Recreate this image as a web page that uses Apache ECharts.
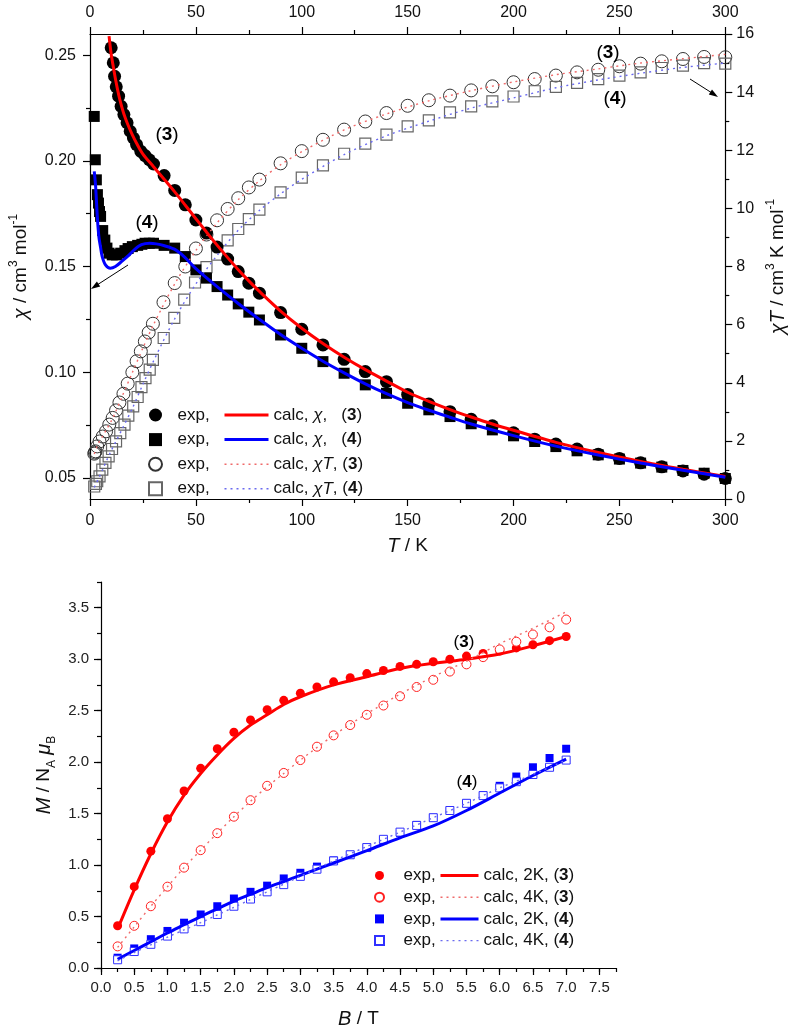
<!DOCTYPE html>
<html>
<head>
<meta charset="utf-8">
<script src="https://cdn.jsdelivr.net/npm/echarts@6/dist/echarts.min.js"></script>
<style>
html,body{margin:0;padding:0;background:#fff;}
#c{width:796px;height:1030px;}
</style>
</head>
<body>
<div id="c"></div>
<script>
// ---------- Top chart: chi and chiT vs T ----------
const tTicks = [0, 50, 100, 150, 200, 250, 300];
const chiMajorTicks = [0.05, 0.10, 0.15, 0.20, 0.25];
const chiMinorTicks = [0.075, 0.125, 0.175, 0.225];

const chi3Exp = [[10,0.2535],[11,0.2464],[11.6,0.240],[12.4,0.235],[13.5,0.2306],[14.7,0.2258],[16,0.2219],[17.5,0.218],[19,0.214],[20.5,0.2108],[22,0.2077],[24,0.2045],[26,0.2025],[28,0.2005],[30,0.1985],[35,0.193],[40,0.186],[45,0.1792],[50,0.172],[55,0.1658],[60,0.1592],[65,0.1535],[70,0.1476],[75,0.1421],[80,0.1374],[90,0.1282],[100,0.1203],[110,0.1129],[120,0.1061],[130,0.1003],[140,0.0955],[150,0.0895],[160,0.0849],[170,0.0813],[180,0.0777],[190,0.0746],[200,0.0713],[210,0.0683],[220,0.066],[230,0.0636],[240,0.0612],[250,0.0592],[260,0.0571],[270,0.0552],[280,0.0533],[290,0.0517],[300,0.0497]];
const chi4Exp = [[2,0.221],[2.5,0.2005],[3,0.191],[3.5,0.184],[4,0.180],[4.5,0.176],[5,0.1737],[6,0.167],[7,0.1625],[8,0.1587],[9,0.1563],[10.5,0.1555],[12.5,0.1555],[14.5,0.1563],[16.5,0.1575],[18,0.1585],[20,0.1594],[22.5,0.160],[24.5,0.1605],[26,0.161],[28,0.161],[30,0.161],[35,0.160],[40,0.1587],[45,0.1547],[50,0.1484],[55,0.1445],[60,0.1405],[65,0.1365],[70,0.1323],[75,0.1284],[80,0.1247],[90,0.1176],[100,0.1113],[110,0.105],[120,0.0995],[130,0.094],[140,0.090],[150,0.0853],[160,0.0822],[170,0.079],[180,0.0756],[190,0.0727],[200,0.0699],[210,0.0672],[220,0.0648],[230,0.0628],[240,0.0609],[250,0.0589],[260,0.057],[270,0.0551],[280,0.0535],[290,0.0522],[300,0.0497]];
const chi3Calc = [[9,0.259],[10,0.2505],[11,0.2445],[12,0.2388],[13,0.2338],[14,0.2293],[15,0.2255],[16,0.2222],[18,0.2168],[20,0.2123],[22,0.2083],[25,0.2032],[30,0.1972],[35,0.1913],[40,0.1853],[45,0.179],[50,0.1726],[55,0.1663],[60,0.1601],[65,0.1542],[70,0.1485],[75,0.1432],[80,0.1382],[90,0.1289],[100,0.1208],[110,0.1136],[120,0.1071],[130,0.1012],[140,0.0958],[150,0.0905],[160,0.0862],[170,0.0823],[180,0.0788],[190,0.0755],[200,0.0725],[220,0.0668],[240,0.062],[260,0.0578],[280,0.0541],[300,0.0506]];
const chi4Calc = [[2,0.195],[2.65,0.188],[3.44,0.1737],[4.18,0.1642],[5,0.159],[5.76,0.1547],[7.3,0.1508],[9.6,0.1492],[12,0.150],[15,0.1524],[18,0.155],[21,0.158],[24.3,0.1603],[28.2,0.161],[31.3,0.1607],[35.2,0.1598],[39.8,0.1582],[44.4,0.1547],[50,0.149],[60,0.1405],[70,0.1325],[80,0.125],[90,0.1178],[100,0.1113],[110,0.1052],[120,0.0997],[130,0.0945],[140,0.0898],[150,0.0856],[160,0.082],[170,0.0787],[180,0.0755],[200,0.07],[220,0.065],[240,0.0608],[260,0.057],[280,0.0536],[300,0.0503]];
const chiT3Exp = [[2,1.56],[2.3,1.6],[2.6,1.64],[3.4,1.81],[4.5,1.98],[6,2.15],[7.6,2.33],[9.1,2.56],[10.7,2.79],[12.3,3.05],[13.9,3.32],[15.8,3.62],[17.8,3.97],[20,4.36],[22,4.74],[24,5.08],[25.9,5.42],[27.7,5.73],[29.7,6.03],[34.7,6.77],[40,7.43],[45,8.0],[50,8.62],[55,9.1],[60,9.59],[65,9.98],[70,10.35],[75,10.72],[80,10.99],[90,11.55],[100,11.97],[110,12.36],[120,12.71],[130,12.99],[140,13.28],[150,13.53],[160,13.72],[170,13.88],[180,14.06],[190,14.2],[200,14.34],[210,14.45],[220,14.57],[230,14.68],[240,14.77],[250,14.89],[260,14.98],[270,15.06],[280,15.14],[290,15.21],[300,15.2]];
const chiT4Exp = [[2,0.43],[2.8,0.52],[3.4,0.61],[4.5,0.78],[5.8,1.01],[7.3,1.24],[8.8,1.47],[10.4,1.72],[12.3,1.98],[14.3,2.27],[16.3,2.56],[18.1,2.87],[20.4,3.19],[22.5,3.51],[24.3,3.85],[26.2,4.16],[28.2,4.45],[29.7,4.79],[34.8,5.54],[39.8,6.23],[44.5,6.86],[49.6,7.45],[55,7.98],[60,8.41],[65,8.9],[70,9.29],[75,9.63],[80,9.96],[90,10.55],[100,11.06],[110,11.48],[120,11.88],[130,12.23],[140,12.54],[150,12.82],[160,13.03],[170,13.3],[180,13.51],[190,13.68],[200,13.85],[210,14.03],[220,14.18],[230,14.32],[240,14.45],[250,14.57],[260,14.68],[270,14.83],[280,14.91],[290,15.0],[300,14.98]];
const chiT3Calc = [[2,1.55],[3,1.75],[4,1.92],[6,2.17],[8,2.42],[10,2.68],[12,2.98],[15,3.5],[20,4.35],[25,5.2],[30,6.0],[40,7.4],[50,8.55],[60,9.5],[70,10.3],[80,10.95],[90,11.5],[100,11.95],[120,12.7],[140,13.25],[160,13.7],[180,14.05],[200,14.35],[220,14.6],[240,14.8],[260,15.0],[280,15.15],[300,15.3]];
const chiT4Calc = [[2,0.4],[3,0.55],[4,0.7],[6,1.02],[8,1.35],[10,1.66],[12,1.95],[15,2.38],[20,3.12],[25,3.95],[30,4.75],[40,6.2],[50,7.4],[60,8.38],[70,9.25],[80,9.93],[90,10.5],[100,11.0],[120,11.85],[140,12.5],[160,13.0],[180,13.45],[200,13.8],[220,14.15],[240,14.42],[260,14.65],[280,14.85],[300,15.0]];

// ---------- Bottom chart: M vs B ----------
const bLabelTicks = [0,0.5,1,1.5,2,2.5,3,3.5,4,4.5,5,5.5,6,6.5,7,7.5];
const mLabelTicks = [0,0.5,1,1.5,2,2.5,3,3.5];
const fieldB = [0.25,0.5,0.75,1,1.25,1.5,1.75,2,2.25,2.5,2.75,3,3.25,3.5,3.75,4,4.25,4.5,4.75,5,5.25,5.5,5.75,6,6.25,6.5,6.75,7];
const m3Exp2K = [0.41,0.79,1.135,1.45,1.72,1.94,2.13,2.29,2.41,2.51,2.60,2.67,2.73,2.78,2.82,2.86,2.89,2.93,2.95,2.975,3.0,3.03,3.056,3.08,3.11,3.14,3.18,3.22];
const m3Exp4K = [0.21,0.41,0.60,0.79,0.975,1.145,1.31,1.47,1.63,1.77,1.895,2.02,2.15,2.26,2.36,2.46,2.55,2.64,2.73,2.80,2.88,2.95,3.02,3.095,3.17,3.24,3.31,3.385];
const m4Exp2K = [0.10,0.19,0.28,0.36,0.44,0.52,0.60,0.675,0.74,0.80,0.87,0.925,0.985,1.045,1.10,1.17,1.24,1.31,1.39,1.46,1.53,1.60,1.68,1.77,1.86,1.95,2.04,2.13];
const m4Exp4K = [0.08,0.16,0.23,0.31,0.38,0.45,0.52,0.60,0.67,0.74,0.81,0.89,0.96,1.04,1.10,1.17,1.25,1.32,1.385,1.46,1.53,1.60,1.675,1.75,1.81,1.88,1.95,2.02];
const calcB = [0.25,0.5,0.75,1,1.25,1.5,1.75,2,2.25,2.5,2.75,3,3.5,4,4.5,5,5.5,6,6.5,7];
const m3Calc2K = [0.38,0.76,1.11,1.42,1.68,1.89,2.07,2.23,2.36,2.46,2.56,2.635,2.75,2.83,2.91,2.96,3.0,3.05,3.13,3.22];
const m3Calc4K = [0.2,0.4,0.6,0.79,0.975,1.145,1.31,1.47,1.62,1.76,1.89,2.02,2.26,2.47,2.66,2.83,2.98,3.15,3.30,3.46];
const m4Calc2K = [0.085,0.17,0.255,0.34,0.42,0.50,0.575,0.65,0.715,0.78,0.84,0.90,1.02,1.14,1.265,1.38,1.53,1.70,1.87,2.03];
const m4Calc4K = [0.07,0.15,0.225,0.30,0.37,0.44,0.515,0.59,0.665,0.74,0.815,0.89,1.04,1.18,1.32,1.46,1.60,1.75,1.88,2.02];

const pairs = (xs, ys) => xs.map((x, i) => [x, ys[i]]);

const FONT = '"Liberation Sans", Arial, Helvetica, sans-serif';
const RED = '#ff0000', BLUE = '#0000ff';
const SQUARE = 'path://M0,0H10V10H0Z';
const axisLineStyle = { color: '#000', width: 1.2 };
const tickStyle = { color: '#000', width: 1.2 };

function xTopAxis(position) {
  return {
    type: 'value', gridIndex: 0, position: position, min: 0, max: 300, interval: 50,
    axisLine: { show: true, onZero: false, lineStyle: axisLineStyle },
    axisTick: { show: true, inside: false, length: 7, lineStyle: tickStyle },
    minorTick: { show: true, splitNumber: 2, length: 4, lineStyle: tickStyle },
    axisLabel: { show: true, fontSize: 16, color: '#111', fontFamily: FONT, margin: position === 'top' ? 13 : 14 },
    splitLine: { show: false }, minorSplitLine: { show: false }
  };
}

const nameRich = {
  t: { fontSize: 19, fontFamily: FONT, color: '#111', lineHeight: 26 },
  i: { fontSize: 20, fontFamily: FONT, fontStyle: 'italic', color: '#111', lineHeight: 26 },
  s: { fontSize: 12, fontFamily: FONT, color: '#111', verticalAlign: 'top', lineHeight: 14 },
  u: { fontSize: 12, fontFamily: FONT, color: '#111', verticalAlign: 'bottom', lineHeight: 14 }
};

const legTop = {
  t: { fontSize: 17, fontFamily: FONT, color: '#111', lineHeight: 20 },
  i: { fontSize: 17, fontFamily: FONT, fontStyle: 'italic', color: '#111', lineHeight: 20 },
  b: { fontSize: 17, fontFamily: FONT, fontWeight: 'bold', color: '#111', lineHeight: 20 }
};
const legBot = {
  t: { fontSize: 17, fontFamily: FONT, color: '#111', lineHeight: 19 },
  b: { fontSize: 17, fontFamily: FONT, fontWeight: 'bold', color: '#111', lineHeight: 19 }
};

const calcTopText = {
  'calc χ (3)': '{t|calc, }{i|χ}{t|,   (}{b|3}{t|)}',
  'calc χ (4)': '{t|calc, }{i|χ}{t|,   (}{b|4}{t|)}',
  'calc χT (3)': '{t|calc, }{i|χT}{t|, (}{b|3}{t|)}',
  'calc χT (4)': '{t|calc, }{i|χT}{t|, (}{b|4}{t|)}'
};
const calcBotText = {
  'calc 2K (3)': '{t|calc, 2K, (}{b|3}{t|)}',
  'calc 4K (3)': '{t|calc, 4K, (}{b|3}{t|)}',
  'calc 2K (4)': '{t|calc, 2K, (}{b|4}{t|)}',
  'calc 4K (4)': '{t|calc, 4K, (}{b|4}{t|)}'
};

const dotRed = { color: '#f06a6a', width: 1.4, type: [2, 4] };
const dotBlue = { color: '#6a6af0', width: 1.4, type: [2, 4] };
const hideDot = { opacity: 0 };

function label(txt, x, y, size) {
  return {
    type: 'text', x: x, y: y, z: 100,
    style: {
      text: txt, align: 'center', verticalAlign: 'middle',
      rich: {
        n: { fontSize: size, fontFamily: FONT, color: '#111' },
        b: { fontSize: size, fontFamily: FONT, color: '#111', fontWeight: 'bold' }
      }
    }
  };
}

const option = {
  animation: false,
  backgroundColor: '#fff',
  textStyle: { fontFamily: FONT },
  grid: [
    { left: 88, right: 62, top: 34, bottom: 531, containLabel: false },
    { left: 101, width: 515, top: 582, bottom: 61, containLabel: false }
  ],
  xAxis: [
    Object.assign(xTopAxis('bottom'), {
      name: '{i|T}{t| / K}', nameLocation: 'middle', nameGap: 34,
      nameTextStyle: { rich: nameRich }
    }),
    xTopAxis('top'),
    {
      type: 'value', gridIndex: 1, position: 'bottom', min: 0, max: 7.75, interval: 0.25,
      axisLine: { show: true, onZero: false, lineStyle: axisLineStyle },
      axisTick: { show: true, length: 4, lineStyle: tickStyle },
      axisLabel: { show: true, customValues: bLabelTicks, formatter: v => v.toFixed(1), fontSize: 15, color: '#222', fontFamily: FONT, margin: 12 },
      splitLine: { show: false },
      name: '{i|B}{t| / T}', nameLocation: 'middle', nameGap: 38,
      nameTextStyle: { rich: nameRich }
    },
    {
      type: 'value', gridIndex: 1, position: 'bottom', min: 0, max: 7.75, interval: 0.25,
      axisLine: { show: false, onZero: false },
      axisTick: { show: true, length: 7, customValues: bLabelTicks, lineStyle: tickStyle },
      axisLabel: { show: false }, splitLine: { show: false }
    }
  ],
  yAxis: [
    {
      type: 'value', gridIndex: 0, position: 'left', min: 0.04, max: 0.26,
      axisLine: { show: true, onZero: false, lineStyle: axisLineStyle },
      axisTick: { show: true, length: 7, customValues: chiMajorTicks, lineStyle: tickStyle },
      axisLabel: { show: true, customValues: chiMajorTicks, formatter: v => v.toFixed(2), fontSize: 16, color: '#111', fontFamily: FONT, margin: 14 },
      splitLine: { show: false },
      name: '{i|χ}{t| / cm}{s|3}{t| mol}{s|-1}', nameLocation: 'middle', nameRotate: 90, nameGap: 56,
      nameTextStyle: { rich: nameRich }
    },
    {
      type: 'value', gridIndex: 0, position: 'left', min: 0.04, max: 0.26,
      axisLine: { show: false, onZero: false },
      axisTick: { show: true, length: 4, customValues: chiMinorTicks, lineStyle: tickStyle },
      axisLabel: { show: false }, splitLine: { show: false }
    },
    {
      type: 'value', gridIndex: 0, position: 'right', min: 0, max: 16, interval: 2,
      axisLine: { show: true, onZero: false, lineStyle: axisLineStyle },
      axisTick: { show: true, length: 7, lineStyle: tickStyle },
      minorTick: { show: true, splitNumber: 2, length: 4, lineStyle: tickStyle },
      axisLabel: { show: true, fontSize: 16, color: '#111', fontFamily: FONT, margin: 11 },
      splitLine: { show: false }, minorSplitLine: { show: false },
      name: '{i|χT}{t| / cm}{s|3}{t| K mol}{s|-1}', nameLocation: 'middle', nameRotate: 90, nameGap: 36,
      nameTextStyle: { rich: nameRich }
    },
    {
      type: 'value', gridIndex: 1, position: 'left', min: 0, max: 3.75, interval: 0.25,
      axisLine: { show: true, onZero: false, lineStyle: axisLineStyle },
      axisTick: { show: true, length: 4, lineStyle: tickStyle },
      axisLabel: { show: true, customValues: mLabelTicks, formatter: v => v.toFixed(1), fontSize: 15, color: '#222', fontFamily: FONT, margin: 12 },
      splitLine: { show: false },
      name: '{i|M}{t| / N}{u|A}{t| }{i|μ}{u|B}', nameLocation: 'middle', nameRotate: 90, nameGap: 42,
      nameTextStyle: { rich: nameRich }
    },
    {
      type: 'value', gridIndex: 1, position: 'left', min: 0, max: 3.75, interval: 0.25,
      axisLine: { show: false, onZero: false },
      axisTick: { show: true, length: 7, customValues: mLabelTicks, lineStyle: tickStyle },
      axisLabel: { show: false }, splitLine: { show: false }
    }
  ],
  legend: [
    {
      orient: 'vertical', left: 143, top: 400, itemWidth: 34, itemHeight: 13, itemGap: 4.6,
      selectedMode: false, formatter: () => 'exp,',
      textStyle: { fontSize: 17, fontFamily: FONT, color: '#111', lineHeight: 20 },
      data: [
        { name: 'exp χ (3)' },
        { name: 'exp χ (4)', icon: SQUARE },
        { name: 'exp χT (3)' },
        { name: 'exp χT (4)', icon: SQUARE }
      ]
    },
    {
      orient: 'vertical', left: 218, top: 400, itemWidth: 44, itemHeight: 13, itemGap: 4.6,
      selectedMode: false, formatter: n => calcTopText[n],
      textStyle: { fontSize: 17, fontFamily: FONT, color: '#111', lineHeight: 20, rich: legTop },
      data: [
        { name: 'calc χ (3)', lineStyle: { color: RED, width: 3 }, itemStyle: hideDot },
        { name: 'calc χ (4)', lineStyle: { color: BLUE, width: 3 }, itemStyle: hideDot },
        { name: 'calc χT (3)', lineStyle: dotRed, itemStyle: hideDot },
        { name: 'calc χT (4)', lineStyle: dotBlue, itemStyle: hideDot }
      ]
    },
    {
      orient: 'vertical', left: 369, top: 861, itemWidth: 38, itemHeight: 9, itemGap: 2.7,
      selectedMode: false, formatter: () => 'exp,',
      textStyle: { fontSize: 17, fontFamily: FONT, color: '#111', lineHeight: 19 },
      data: [
        { name: 'exp 2K (3)' },
        { name: 'exp 4K (3)' },
        { name: 'exp 2K (4)', icon: SQUARE },
        { name: 'exp 4K (4)', icon: SQUARE }
      ]
    },
    {
      orient: 'vertical', left: 434, top: 861, itemWidth: 38, itemHeight: 9, itemGap: 2.7,
      selectedMode: false, formatter: n => calcBotText[n],
      textStyle: { fontSize: 17, fontFamily: FONT, color: '#111', lineHeight: 19, rich: legBot },
      data: [
        { name: 'calc 2K (3)', lineStyle: { color: RED, width: 3 }, itemStyle: hideDot },
        { name: 'calc 4K (3)', lineStyle: dotRed, itemStyle: hideDot },
        { name: 'calc 2K (4)', lineStyle: { color: BLUE, width: 3 }, itemStyle: hideDot },
        { name: 'calc 4K (4)', lineStyle: dotBlue, itemStyle: hideDot }
      ]
    }
  ],
  series: [
    // top chart
    { name: 'exp χT (3)', type: 'scatter', xAxisIndex: 0, yAxisIndex: 2, data: chiT3Exp, symbol: 'circle', symbolSize: 13,
      itemStyle: { color: 'transparent', borderColor: '#333', borderWidth: 1, opacity: 1 } },
    { name: 'exp χT (4)', type: 'scatter', xAxisIndex: 0, yAxisIndex: 2, data: chiT4Exp, symbol: 'rect', symbolSize: 11,
      itemStyle: { color: 'transparent', borderColor: '#666', borderWidth: 1.2, opacity: 1 } },
    { name: 'calc χT (3)', type: 'line', xAxisIndex: 0, yAxisIndex: 2, data: chiT3Calc, symbol: 'none', smooth: 0.3, lineStyle: dotRed, itemStyle: { color: '#f06a6a' } },
    { name: 'calc χT (4)', type: 'line', xAxisIndex: 0, yAxisIndex: 2, data: chiT4Calc, symbol: 'none', smooth: 0.3, lineStyle: dotBlue, itemStyle: { color: '#6a6af0' } },
    { name: 'exp χ (3)', type: 'scatter', xAxisIndex: 0, yAxisIndex: 0, data: chi3Exp, symbol: 'circle', symbolSize: 13,
      itemStyle: { color: '#000', opacity: 1 } },
    { name: 'exp χ (4)', type: 'scatter', xAxisIndex: 0, yAxisIndex: 0, data: chi4Exp, symbol: 'rect', symbolSize: 11,
      itemStyle: { color: '#000', opacity: 1 } },
    { name: 'calc χ (3)', type: 'line', xAxisIndex: 0, yAxisIndex: 0, data: chi3Calc, symbol: 'none', smooth: 0.3,
      lineStyle: { color: RED, width: 3 }, itemStyle: { color: RED } },
    { name: 'calc χ (4)', type: 'line', xAxisIndex: 0, yAxisIndex: 0, data: chi4Calc, symbol: 'none', smooth: 0.3,
      lineStyle: { color: BLUE, width: 3 }, itemStyle: { color: BLUE } },
    // bottom chart
    { name: 'exp 2K (3)', type: 'scatter', xAxisIndex: 2, yAxisIndex: 3, data: pairs(fieldB, m3Exp2K), symbol: 'circle', symbolSize: 9,
      itemStyle: { color: RED, opacity: 1 } },
    { name: 'calc 2K (3)', type: 'line', xAxisIndex: 2, yAxisIndex: 3, data: pairs(calcB, m3Calc2K), symbol: 'none', smooth: 0.3,
      lineStyle: { color: RED, width: 3 }, itemStyle: { color: RED } },
    { name: 'exp 4K (3)', type: 'scatter', xAxisIndex: 2, yAxisIndex: 3, data: pairs(fieldB, m3Exp4K), symbol: 'circle', symbolSize: 9,
      itemStyle: { color: '#fff', borderColor: '#ff2020', borderWidth: 1, opacity: 1 } },
    { name: 'calc 4K (3)', type: 'line', xAxisIndex: 2, yAxisIndex: 3, data: pairs(calcB, m3Calc4K), symbol: 'none', smooth: 0.3, lineStyle: dotRed, itemStyle: { color: '#f06a6a' } },
    { name: 'exp 2K (4)', type: 'scatter', xAxisIndex: 2, yAxisIndex: 3, data: pairs(fieldB, m4Exp2K), symbol: 'rect', symbolSize: 8,
      itemStyle: { color: BLUE, opacity: 1 } },
    { name: 'calc 2K (4)', type: 'line', xAxisIndex: 2, yAxisIndex: 3, data: pairs(calcB, m4Calc2K), symbol: 'none', smooth: 0.3,
      lineStyle: { color: BLUE, width: 3 }, itemStyle: { color: BLUE } },
    { name: 'exp 4K (4)', type: 'scatter', xAxisIndex: 2, yAxisIndex: 3, data: pairs(fieldB, m4Exp4K), symbol: 'rect', symbolSize: 8,
      itemStyle: { color: '#fff', borderColor: '#3030ff', borderWidth: 1, opacity: 1 } },
    { name: 'calc 4K (4)', type: 'line', xAxisIndex: 2, yAxisIndex: 3, data: pairs(calcB, m4Calc4K), symbol: 'none', smooth: 0.3, lineStyle: dotBlue, itemStyle: { color: '#6a6af0' } }
  ],
  graphic: [
    label('{n|(}{b|3}{n|)}', 167, 135, 19),
    label('{n|(}{b|4}{n|)}', 147, 223, 19),
    label('{n|(}{b|3}{n|)}', 608, 53, 19),
    label('{n|(}{b|4}{n|)}', 615, 99, 19),
    label('{n|(}{b|3}{n|)}', 464, 642, 17),
    label('{n|(}{b|4}{n|)}', 467, 782, 17),
    { type: 'line', z: 100, shape: { x1: 128, y1: 265, x2: 97, y2: 285 }, style: { stroke: '#000', lineWidth: 1 } },
    { type: 'polygon', z: 100, shape: { points: [[91, 289], [100.2, 286.6], [96.9, 281.6]] }, style: { fill: '#000' } },
    { type: 'line', z: 100, shape: { x1: 690, y1: 79, x2: 712, y2: 93 }, style: { stroke: '#000', lineWidth: 1 } },
    { type: 'polygon', z: 100, shape: { points: [[718, 97], [708.8, 94.6], [712.0, 89.6]] }, style: { fill: '#000' } }
  ]
};

const chart = echarts.init(document.getElementById('c'), null, { renderer: 'canvas' });
chart.setOption(option);
</script>
</body>
</html>
